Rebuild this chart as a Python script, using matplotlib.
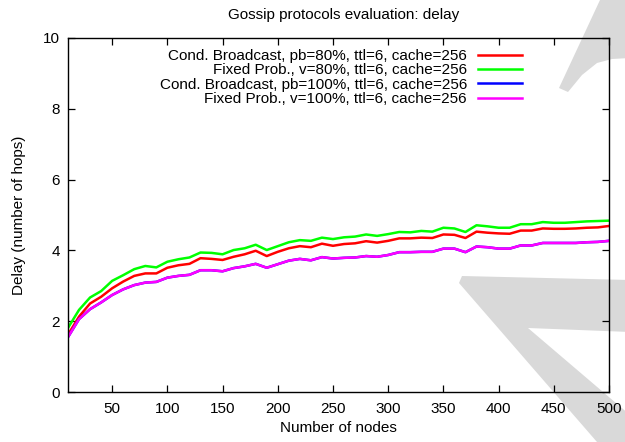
import matplotlib
matplotlib.use("Agg")
import matplotlib.pyplot as plt
from matplotlib.patches import Polygon

plt.rcParams['font.family'] = ['Liberation Sans', 'DejaVu Sans']

nodes = list(range(10, 501, 10))

cond_80 = [1.62, 2.13, 2.50, 2.69, 2.93, 3.12, 3.28, 3.35, 3.35, 3.51,
           3.58, 3.62, 3.78, 3.76, 3.73, 3.82, 3.89, 3.99, 3.84, 3.96,
           4.06, 4.12, 4.09, 4.19, 4.13, 4.18, 4.20, 4.26, 4.22, 4.27,
           4.34, 4.34, 4.36, 4.35, 4.45, 4.44, 4.35, 4.53, 4.50, 4.48,
           4.47, 4.56, 4.56, 4.62, 4.61, 4.61, 4.62, 4.64, 4.65, 4.69]
fixed_80 = [1.81, 2.32, 2.67, 2.85, 3.14, 3.30, 3.47, 3.56, 3.52, 3.68,
            3.75, 3.80, 3.94, 3.93, 3.89, 4.01, 4.06, 4.16, 4.01, 4.12,
            4.23, 4.29, 4.27, 4.36, 4.32, 4.37, 4.39, 4.45, 4.41, 4.46,
            4.52, 4.51, 4.55, 4.53, 4.64, 4.62, 4.52, 4.71, 4.68, 4.64,
            4.64, 4.74, 4.74, 4.80, 4.78, 4.78, 4.80, 4.82, 4.83, 4.84]
cond_100 = [1.55, 2.06, 2.34, 2.53, 2.74, 2.90, 3.02, 3.09, 3.11, 3.23,
            3.28, 3.31, 3.44, 3.44, 3.41, 3.50, 3.55, 3.62, 3.51, 3.61,
            3.71, 3.76, 3.72, 3.81, 3.77, 3.79, 3.80, 3.84, 3.82, 3.87,
            3.95, 3.95, 3.96, 3.96, 4.05, 4.05, 3.95, 4.11, 4.09, 4.05,
            4.05, 4.14, 4.14, 4.21, 4.21, 4.21, 4.21, 4.23, 4.24, 4.27]
fixed_100 = [1.55, 2.06, 2.34, 2.53, 2.74, 2.90, 3.02, 3.09, 3.11, 3.23,
             3.28, 3.31, 3.44, 3.44, 3.41, 3.50, 3.55, 3.62, 3.51, 3.61,
             3.71, 3.76, 3.72, 3.81, 3.77, 3.79, 3.80, 3.84, 3.82, 3.87,
             3.95, 3.95, 3.96, 3.96, 4.05, 4.05, 3.95, 4.11, 4.09, 4.05,
             4.05, 4.14, 4.14, 4.21, 4.21, 4.21, 4.21, 4.23, 4.24, 4.27]

labels = ["Cond. Broadcast, pb=80%, ttl=6, cache=256",
          "Fixed Prob., v=80%, ttl=6, cache=256",
          "Cond. Broadcast, pb=100%, ttl=6, cache=256",
          "Fixed Prob., v=100%, ttl=6, cache=256"]
colors = ["#ff0000", "#00ff00", "#0000ff", "#ff00ff"]
series = [cond_80, fixed_80, cond_100, fixed_100]

x_ticks = list(range(50, 501, 50))
y_ticks = list(range(0, 11, 2))

W, H = 625, 442
fig = plt.figure(figsize=(W / 100, H / 100), dpi=100)
fig.patch.set_facecolor("white")

# watermark shapes (figure pixel coordinates, converted to fractions)
def px(pts):
    return [(x / W, 1 - y / H) for x, y in pts]

grey = "#d9d9d9"
shape1 = px([(600, 0), (630, 0), (630, 58), (612, 59), (597, 63), (582, 75),
             (568, 92), (559, 88)])
shape2 = px([(462, 276), (630, 280), (630, 332), (528, 328), (630, 415),
             (630, 442), (597, 442), (459, 283)])
for s in (shape1, shape2):
    fig.patches.append(Polygon(s, closed=True, transform=fig.transFigure,
                               facecolor=grey, edgecolor="none", zorder=-5))

ax = fig.add_axes([68 / W, 1 - 392 / H, (609 - 68) / W, (392 - 38) / H])
ax.set_zorder(2)
ax.patch.set_alpha(0)

for vals, c, lab in zip(series, colors, labels):
    ax.plot(nodes, vals, color=c, lw=1.8, label=lab)

ax.set_xlim(10, 500)
ax.set_ylim(0, 10)
ax.set_xticks(x_ticks)
ax.set_yticks(y_ticks)
fs = 11
ax.tick_params(direction="in", length=5, width=0.9, top=True, right=True,
               labelsize=fs, pad=6, colors="black")
ax.tick_params(axis="x", pad=7)
for sp in ax.spines.values():
    sp.set_linewidth(1.0)
    sp.set_zorder(5)

ax.set_xlabel("Number of nodes", fontsize=fs, labelpad=4)
ax.set_ylabel("Delay (number of hops)", fontsize=fs, labelpad=12)
fig.text(343.5 / W, 1 - 15 / H, "Gossip protocols evaluation: delay",
         ha="center", va="center", fontsize=fs)

leg = ax.legend(loc="upper right", bbox_to_anchor=(522 / W, 1 - 49 / H),
                bbox_transform=fig.transFigure, frameon=False,
                markerfirst=False, fontsize=fs, handlelength=2.9,
                handletextpad=0.7, labelspacing=0.02, borderpad=0,
                borderaxespad=0)

fig.savefig("out.png", dpi=100)
